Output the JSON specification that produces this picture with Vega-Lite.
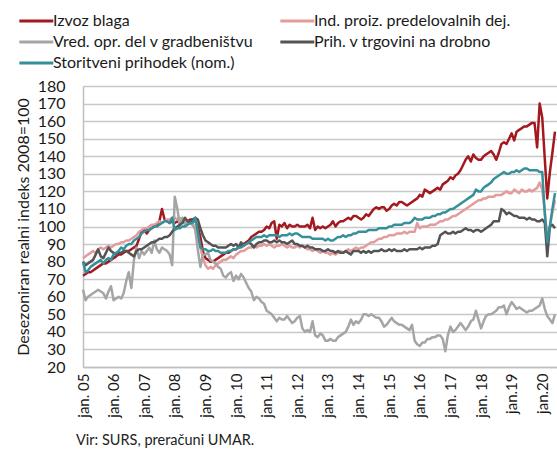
{
  "$schema": "https://vega.github.io/schema/vega-lite/v6.json",
  "width": 474,
  "height": 281,
  "autosize": {"type": "none"},
  "padding": {"left": 83, "top": 86, "right": 0, "bottom": 85},
  "background": "white",
  "config": {"font": "Lato", "view": {"stroke": null}},
  "title": {"text": "Vir: SURS, preračuni UMAR.", "orient": "bottom", "anchor": "start", "frame": "group", "fontSize": 14.5, "fontWeight": "normal", "color": "#222222", "dx": -7, "offset": 17},
  "data": {"values": [
    {"d":"2005-01","a":72,"b":82,"c":64,"e":80,"f":80},
    {"d":"2005-02","a":73,"b":83,"c":58,"e":78,"f":74},
    {"d":"2005-03","a":74,"b":84,"c":60,"e":79,"f":75},
    {"d":"2005-04","a":74,"b":85,"c":61,"e":80,"f":77},
    {"d":"2005-05","a":75,"b":86,"c":62,"e":81,"f":78},
    {"d":"2005-06","a":76,"b":85,"c":63,"e":84,"f":79},
    {"d":"2005-07","a":77,"b":87,"c":64,"e":87,"f":80},
    {"d":"2005-08","a":78,"b":88,"c":63,"e":83,"f":81},
    {"d":"2005-09","a":79,"b":87,"c":62,"e":82,"f":79},
    {"d":"2005-10","a":79,"b":88,"c":59,"e":85,"f":81},
    {"d":"2005-11","a":80,"b":89,"c":63,"e":88,"f":82},
    {"d":"2005-12","a":81,"b":88,"c":66,"e":86,"f":81},
    {"d":"2006-01","a":82,"b":89,"c":58,"e":85,"f":84},
    {"d":"2006-02","a":83,"b":90,"c":59,"e":84,"f":85},
    {"d":"2006-03","a":84,"b":90,"c":60,"e":85,"f":86},
    {"d":"2006-04","a":84,"b":91,"c":59,"e":85,"f":88},
    {"d":"2006-05","a":85,"b":91,"c":62,"e":86,"f":87},
    {"d":"2006-06","a":86,"b":92,"c":69,"e":86,"f":89},
    {"d":"2006-07","a":86,"b":92,"c":74,"e":85,"f":90},
    {"d":"2006-08","a":87,"b":93,"c":65,"e":84,"f":90},
    {"d":"2006-09","a":88,"b":94,"c":81,"e":83,"f":92},
    {"d":"2006-10","a":89,"b":95,"c":88,"e":86,"f":93},
    {"d":"2006-11","a":93,"b":97,"c":82,"e":87,"f":94},
    {"d":"2006-12","a":97,"b":98,"c":86,"e":87,"f":96},
    {"d":"2007-01","a":98,"b":99,"c":84,"e":88,"f":97},
    {"d":"2007-02","a":96,"b":99,"c":86,"e":89,"f":98},
    {"d":"2007-03","a":98,"b":100,"c":88,"e":90,"f":98},
    {"d":"2007-04","a":99,"b":101,"c":85,"e":91,"f":99},
    {"d":"2007-05","a":100,"b":101,"c":92,"e":91,"f":100},
    {"d":"2007-06","a":101,"b":102,"c":87,"e":92,"f":100},
    {"d":"2007-07","a":103,"b":103,"c":85,"e":93,"f":101},
    {"d":"2007-08","a":110,"b":102,"c":88,"e":93,"f":102},
    {"d":"2007-09","a":104,"b":103,"c":87,"e":94,"f":103},
    {"d":"2007-10","a":103,"b":104,"c":86,"e":94,"f":103},
    {"d":"2007-11","a":102,"b":104,"c":84,"e":95,"f":102},
    {"d":"2007-12","a":103,"b":105,"c":78,"e":97,"f":105},
    {"d":"2008-01","a":102,"b":105,"c":117,"e":99,"f":98},
    {"d":"2008-02","a":103,"b":104,"c":110,"e":100,"f":99},
    {"d":"2008-03","a":102,"b":105,"c":100,"e":101,"f":99},
    {"d":"2008-04","a":103,"b":104,"c":105,"e":102,"f":100},
    {"d":"2008-05","a":104,"b":103,"c":101,"e":105,"f":100},
    {"d":"2008-06","a":103,"b":103,"c":103,"e":103,"f":101},
    {"d":"2008-07","a":104,"b":102,"c":102,"e":102,"f":102},
    {"d":"2008-08","a":104,"b":101,"c":101,"e":104,"f":102},
    {"d":"2008-09","a":103,"b":100,"c":98,"e":105,"f":105},
    {"d":"2008-10","a":100,"b":95,"c":87,"e":104,"f":97},
    {"d":"2008-11","a":94,"b":88,"c":77,"e":99,"f":88},
    {"d":"2008-12","a":86,"b":82,"c":84,"e":95,"f":87},
    {"d":"2009-01","a":82,"b":78,"c":84,"e":92,"f":87},
    {"d":"2009-02","a":81,"b":76,"c":85,"e":91,"f":86},
    {"d":"2009-03","a":80,"b":77,"c":81,"e":90,"f":86},
    {"d":"2009-04","a":80,"b":76,"c":80,"e":89,"f":87},
    {"d":"2009-05","a":81,"b":78,"c":79,"e":89,"f":86},
    {"d":"2009-06","a":82,"b":79,"c":77,"e":88,"f":86},
    {"d":"2009-07","a":83,"b":80,"c":76,"e":88,"f":85},
    {"d":"2009-08","a":84,"b":81,"c":72,"e":88,"f":85},
    {"d":"2009-09","a":85,"b":81,"c":71,"e":88,"f":85},
    {"d":"2009-10","a":85,"b":82,"c":73,"e":89,"f":86},
    {"d":"2009-11","a":86,"b":83,"c":74,"e":90,"f":86},
    {"d":"2009-12","a":87,"b":82,"c":69,"e":89,"f":87},
    {"d":"2010-01","a":87,"b":84,"c":72,"e":90,"f":87},
    {"d":"2010-02","a":88,"b":85,"c":70,"e":88,"f":88},
    {"d":"2010-03","a":89,"b":86,"c":73,"e":91,"f":88},
    {"d":"2010-04","a":90,"b":86,"c":71,"e":89,"f":89},
    {"d":"2010-05","a":91,"b":87,"c":68,"e":90,"f":90},
    {"d":"2010-06","a":92,"b":88,"c":65,"e":91,"f":91},
    {"d":"2010-07","a":94,"b":88,"c":63,"e":90,"f":92},
    {"d":"2010-08","a":95,"b":89,"c":58,"e":88,"f":93},
    {"d":"2010-09","a":96,"b":88,"c":60,"e":90,"f":94},
    {"d":"2010-10","a":97,"b":89,"c":59,"e":91,"f":94},
    {"d":"2010-11","a":97,"b":89,"c":57,"e":91,"f":94},
    {"d":"2010-12","a":98,"b":90,"c":56,"e":92,"f":95},
    {"d":"2011-01","a":100,"b":89,"c":52,"e":92,"f":94},
    {"d":"2011-02","a":99,"b":90,"c":51,"e":91,"f":95},
    {"d":"2011-03","a":102,"b":89,"c":50,"e":91,"f":95},
    {"d":"2011-04","a":103,"b":88,"c":48,"e":92,"f":95},
    {"d":"2011-05","a":93,"b":89,"c":46,"e":91,"f":95},
    {"d":"2011-06","a":101,"b":89,"c":48,"e":92,"f":94},
    {"d":"2011-07","a":100,"b":90,"c":47,"e":91,"f":95},
    {"d":"2011-08","a":102,"b":89,"c":47,"e":91,"f":95},
    {"d":"2011-09","a":99,"b":88,"c":49,"e":90,"f":95},
    {"d":"2011-10","a":101,"b":89,"c":47,"e":91,"f":96},
    {"d":"2011-11","a":100,"b":88,"c":45,"e":92,"f":95},
    {"d":"2011-12","a":100,"b":88,"c":46,"e":90,"f":96},
    {"d":"2012-01","a":101,"b":89,"c":48,"e":90,"f":96},
    {"d":"2012-02","a":100,"b":88,"c":49,"e":89,"f":95},
    {"d":"2012-03","a":100,"b":89,"c":42,"e":89,"f":94},
    {"d":"2012-04","a":100,"b":88,"c":40,"e":88,"f":94},
    {"d":"2012-05","a":101,"b":87,"c":41,"e":89,"f":94},
    {"d":"2012-06","a":99,"b":87,"c":40,"e":88,"f":94},
    {"d":"2012-07","a":105,"b":86,"c":46,"e":88,"f":93},
    {"d":"2012-08","a":98,"b":87,"c":38,"e":87,"f":93},
    {"d":"2012-09","a":100,"b":86,"c":37,"e":87,"f":93},
    {"d":"2012-10","a":99,"b":85,"c":39,"e":87,"f":93},
    {"d":"2012-11","a":100,"b":86,"c":38,"e":86,"f":93},
    {"d":"2012-12","a":99,"b":85,"c":35,"e":86,"f":92},
    {"d":"2013-01","a":100,"b":85,"c":35,"e":87,"f":93},
    {"d":"2013-02","a":101,"b":84,"c":36,"e":86,"f":92},
    {"d":"2013-03","a":103,"b":85,"c":35,"e":86,"f":92},
    {"d":"2013-04","a":100,"b":84,"c":35,"e":85,"f":93},
    {"d":"2013-05","a":102,"b":85,"c":37,"e":86,"f":94},
    {"d":"2013-06","a":103,"b":86,"c":38,"e":85,"f":94},
    {"d":"2013-07","a":103,"b":85,"c":39,"e":85,"f":95},
    {"d":"2013-08","a":104,"b":86,"c":40,"e":86,"f":94},
    {"d":"2013-09","a":105,"b":87,"c":43,"e":85,"f":95},
    {"d":"2013-10","a":104,"b":86,"c":47,"e":84,"f":95},
    {"d":"2013-11","a":106,"b":87,"c":44,"e":86,"f":96},
    {"d":"2013-12","a":106,"b":88,"c":46,"e":86,"f":96},
    {"d":"2014-01","a":105,"b":87,"c":45,"e":86,"f":97},
    {"d":"2014-02","a":104,"b":88,"c":47,"e":85,"f":97},
    {"d":"2014-03","a":105,"b":88,"c":50,"e":86,"f":97},
    {"d":"2014-04","a":107,"b":89,"c":50,"e":85,"f":97},
    {"d":"2014-05","a":106,"b":90,"c":49,"e":86,"f":98},
    {"d":"2014-06","a":108,"b":91,"c":50,"e":85,"f":98},
    {"d":"2014-07","a":110,"b":91,"c":49,"e":86,"f":98},
    {"d":"2014-08","a":111,"b":92,"c":48,"e":86,"f":98},
    {"d":"2014-09","a":110,"b":93,"c":48,"e":86,"f":99},
    {"d":"2014-10","a":111,"b":93,"c":46,"e":87,"f":99},
    {"d":"2014-11","a":111,"b":94,"c":43,"e":86,"f":99},
    {"d":"2014-12","a":109,"b":94,"c":44,"e":86,"f":99},
    {"d":"2015-01","a":110,"b":95,"c":46,"e":87,"f":100},
    {"d":"2015-02","a":112,"b":95,"c":48,"e":86,"f":100},
    {"d":"2015-03","a":113,"b":95,"c":46,"e":87,"f":101},
    {"d":"2015-04","a":112,"b":96,"c":45,"e":86,"f":101},
    {"d":"2015-05","a":114,"b":96,"c":44,"e":86,"f":101},
    {"d":"2015-06","a":114,"b":96,"c":44,"e":86,"f":101},
    {"d":"2015-07","a":113,"b":97,"c":43,"e":87,"f":102},
    {"d":"2015-08","a":112,"b":96,"c":42,"e":86,"f":102},
    {"d":"2015-09","a":113,"b":97,"c":41,"e":87,"f":102},
    {"d":"2015-10","a":114,"b":97,"c":44,"e":87,"f":103},
    {"d":"2015-11","a":115,"b":97,"c":35,"e":87,"f":105},
    {"d":"2015-12","a":116,"b":102,"c":33,"e":87,"f":104},
    {"d":"2016-01","a":118,"b":99,"c":32,"e":88,"f":104},
    {"d":"2016-02","a":117,"b":100,"c":34,"e":87,"f":104},
    {"d":"2016-03","a":121,"b":100,"c":34,"e":88,"f":105},
    {"d":"2016-04","a":120,"b":100,"c":36,"e":88,"f":105},
    {"d":"2016-05","a":119,"b":101,"c":36,"e":88,"f":105},
    {"d":"2016-06","a":120,"b":101,"c":37,"e":89,"f":106},
    {"d":"2016-07","a":121,"b":101,"c":37,"e":89,"f":106},
    {"d":"2016-08","a":122,"b":102,"c":38,"e":90,"f":107},
    {"d":"2016-09","a":121,"b":103,"c":38,"e":95,"f":107},
    {"d":"2016-10","a":124,"b":103,"c":36,"e":96,"f":108},
    {"d":"2016-11","a":125,"b":104,"c":29,"e":97,"f":108},
    {"d":"2016-12","a":126,"b":104,"c":38,"e":96,"f":109},
    {"d":"2017-01","a":128,"b":105,"c":43,"e":96,"f":110},
    {"d":"2017-02","a":127,"b":106,"c":40,"e":97,"f":110},
    {"d":"2017-03","a":129,"b":106,"c":41,"e":96,"f":111},
    {"d":"2017-04","a":130,"b":107,"c":43,"e":97,"f":112},
    {"d":"2017-05","a":132,"b":108,"c":45,"e":97,"f":113},
    {"d":"2017-06","a":135,"b":109,"c":43,"e":98,"f":114},
    {"d":"2017-07","a":138,"b":110,"c":41,"e":99,"f":115},
    {"d":"2017-08","a":140,"b":111,"c":43,"e":98,"f":116},
    {"d":"2017-09","a":137,"b":112,"c":46,"e":98,"f":117},
    {"d":"2017-10","a":141,"b":113,"c":47,"e":97,"f":118},
    {"d":"2017-11","a":139,"b":114,"c":52,"e":98,"f":121},
    {"d":"2017-12","a":138,"b":115,"c":47,"e":98,"f":120},
    {"d":"2018-01","a":138,"b":115,"c":42,"e":97,"f":120},
    {"d":"2018-02","a":140,"b":116,"c":46,"e":98,"f":122},
    {"d":"2018-03","a":141,"b":116,"c":49,"e":99,"f":123},
    {"d":"2018-04","a":142,"b":117,"c":50,"e":100,"f":124},
    {"d":"2018-05","a":143,"b":117,"c":50,"e":101,"f":125},
    {"d":"2018-06","a":141,"b":117,"c":51,"e":103,"f":127},
    {"d":"2018-07","a":138,"b":118,"c":52,"e":103,"f":128},
    {"d":"2018-08","a":142,"b":118,"c":54,"e":103,"f":129},
    {"d":"2018-09","a":147,"b":118,"c":54,"e":110,"f":130},
    {"d":"2018-10","a":148,"b":119,"c":55,"e":109,"f":131},
    {"d":"2018-11","a":147,"b":120,"c":50,"e":107,"f":130},
    {"d":"2018-12","a":150,"b":119,"c":54,"e":108,"f":130},
    {"d":"2019-01","a":153,"b":119,"c":57,"e":107,"f":131},
    {"d":"2019-02","a":149,"b":121,"c":55,"e":106,"f":131},
    {"d":"2019-03","a":154,"b":120,"c":53,"e":106,"f":132},
    {"d":"2019-04","a":155,"b":119,"c":54,"e":105,"f":131},
    {"d":"2019-05","a":156,"b":121,"c":53,"e":105,"f":132},
    {"d":"2019-06","a":157,"b":120,"c":52,"e":105,"f":133},
    {"d":"2019-07","a":157,"b":120,"c":51,"e":104,"f":133},
    {"d":"2019-08","a":158,"b":121,"c":52,"e":105,"f":132},
    {"d":"2019-09","a":159,"b":120,"c":52,"e":104,"f":132},
    {"d":"2019-10","a":159,"b":121,"c":53,"e":104,"f":132},
    {"d":"2019-11","a":145,"b":122,"c":54,"e":103,"f":132},
    {"d":"2019-12","a":170,"b":125,"c":55,"e":103,"f":131},
    {"d":"2020-01","a":162,"b":121,"c":59,"e":104,"f":131},
    {"d":"2020-02","a":138,"b":108,"c":53,"e":102,"f":107},
    {"d":"2020-03","a":116,"b":94,"c":49,"e":83,"f":91},
    {"d":"2020-04","a":131,"b":100,"c":47,"e":100,"f":100},
    {"d":"2020-05","a":142,"b":108,"c":45,"e":101,"f":110},
    {"d":"2020-06","a":154,"b":115,"c":50,"e":99,"f":119}
  ]},
  "transform": [{"fold": ["a", "b", "c", "e", "f"], "as": ["k", "v"]}],
  "mark": {"type": "line", "strokeWidth": 2.5, "strokeJoin": "round"},
  "encoding": {
    "x": {
      "field": "d", "type": "temporal",
      "scale": {"type": "utc", "domain": ["2005-01-01", "2020-06-25"]},
      "axis": {
        "title": null,
        "values": [
          {"year": 2005, "month": 1, "date": 1, "utc": true},
          {"year": 2006, "month": 1, "date": 1, "utc": true},
          {"year": 2007, "month": 1, "date": 1, "utc": true},
          {"year": 2008, "month": 1, "date": 1, "utc": true},
          {"year": 2009, "month": 1, "date": 1, "utc": true},
          {"year": 2010, "month": 1, "date": 1, "utc": true},
          {"year": 2011, "month": 1, "date": 1, "utc": true},
          {"year": 2012, "month": 1, "date": 1, "utc": true},
          {"year": 2013, "month": 1, "date": 1, "utc": true},
          {"year": 2014, "month": 1, "date": 1, "utc": true},
          {"year": 2015, "month": 1, "date": 1, "utc": true},
          {"year": 2016, "month": 1, "date": 1, "utc": true},
          {"year": 2017, "month": 1, "date": 1, "utc": true},
          {"year": 2018, "month": 1, "date": 1, "utc": true},
          {"year": 2019, "month": 1, "date": 1, "utc": true},
          {"year": 2020, "month": 1, "date": 1, "utc": true}
        ],
        "labelExpr": "utcyear(datum.value) >= 2019 ? 'jan.' + utcFormat(datum.value, '%y') : 'jan. ' + utcFormat(datum.value, '%y')",
        "labelAngle": 270,
        "labelAlign": "right",
        "labelBaseline": "middle",
        "labelPadding": 6,
        "labelFontSize": 15,
        "labelColor": "#1a1a1a",
        "labelOverlap": false,
        "labelFlush": false,
        "ticks": false,
        "tickSize": 0,
        "grid": false,
        "domain": true,
        "domainColor": "#bfbfbf",
        "domainWidth": 1.5
      }
    },
    "y": {
      "field": "v", "type": "quantitative",
      "scale": {"domain": [20, 180], "nice": false, "zero": false},
      "axis": {
        "title": "Desezoniran  realni indeks 2008=100",
        "titleFontSize": 16,
        "titleFontWeight": "normal",
        "titleColor": "#1a1a1a",
        "titlePadding": 6,
        "values": [20, 30, 40, 50, 60, 70, 80, 90, 100, 110, 120, 130, 140, 150, 160, 170, 180],
        "labelFontSize": 16,
        "labelColor": "#1a1a1a",
        "labelPadding": 18,
        "labelFlush": false,
        "labelOverlap": false,
        "ticks": false,
        "tickSize": 0,
        "grid": true,
        "gridColor": "#c8c8c8",
        "gridWidth": 1.5,
        "domain": true,
        "domainColor": "#bfbfbf",
        "domainWidth": 1.5
      }
    },
    "color": {
      "field": "k", "type": "nominal",
      "scale": {"domain": ["a", "b", "c", "e", "f"], "range": ["#a3191f", "#e39b9b", "#a5a5a5", "#545454", "#36909a"]},
      "legend": {
        "orient": "none",
        "legendX": -66,
        "legendY": -73,
        "direction": "horizontal",
        "columns": 2,
        "title": null,
        "symbolType": "M-1,0H5",
        "symbolSize": 128,
        "symbolStrokeWidth": 3,
        "labelFontSize": 16,
        "labelColor": "#1a1a1a",
        "labelLimit": 300,
        "labelOffset": 20,
        "rowPadding": 5,
        "columnPadding": 20,
        "labelExpr": "datum.label == 'a' ? 'Izvoz blaga' : datum.label == 'b' ? 'Ind. proiz. predelovalnih dej.' : datum.label == 'c' ? 'Vred. opr. del v gradbeništvu' : datum.label == 'e' ? 'Prih. v trgovini na drobno' : 'Storitveni prihodek (nom.)'"
      }
    }
  }
}
